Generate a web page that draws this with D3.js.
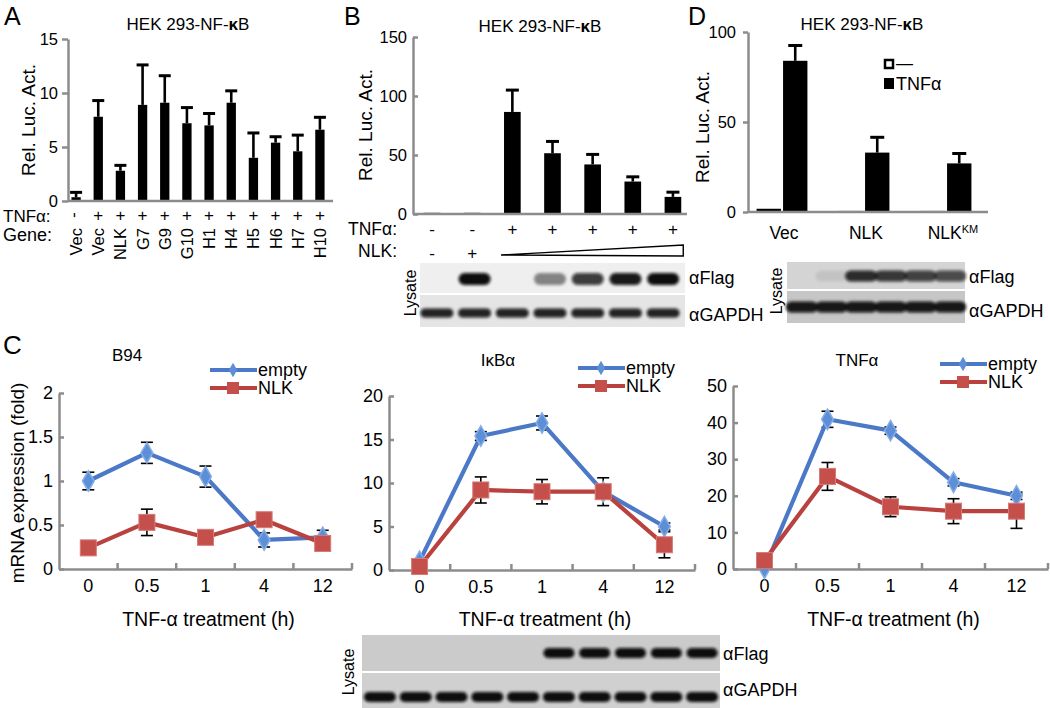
<!DOCTYPE html>
<html>
<head>
<meta charset="utf-8">
<script src="https://cdn.jsdelivr.net/npm/d3@7"></script>
<style>
  body { margin: 0; background: #fff; }
  svg { display: block; font-family: "Liberation Sans", Arial, Helvetica, sans-serif; }
</style>
</head>
<body>
<svg id="fig" width="1050" height="708"></svg>
<script>
// ---- data: panel A (reporter screen) ----
const geneLabels = ["Vec", "Vec", "NLK", "G7", "G9", "G10", "H1", "H4", "H5", "H6", "H7", "H10"];
const geneTnf = ["-", "+", "+", "+", "+", "+", "+", "+", "+", "+", "+", "+"];
const geneAct = [0.35, 7.8, 2.8, 8.9, 9.1, 7.2, 7.0, 9.1, 4.0, 5.4, 4.6, 6.6];
const geneErr = [0.45, 1.5, 0.5, 3.7, 2.5, 1.45, 1.1, 1.1, 2.3, 0.55, 1.5, 1.15];

// ---- data: panel B (NLK dose) ----
const doseTnf = ["-", "-", "+", "+", "+", "+", "+"];
const doseNlk = ["-", "+"];          // remaining lanes shown as a wedge
const doseAct = [1, 1, 86.5, 51.5, 42, 27.5, 14.5];
const doseErr = [0, 0, 18.5, 10, 8.5, 4, 4];
const doseFlag = [0, 1, 0, 0.45, 0.8, 0.95, 1];
const doseGapdh = [0.9, 0.9, 0.9, 0.9, 0.9, 0.9, 0.9];

// ---- data: panel D (kinase mutant) ----
const dGroups = ["Vec", "NLK", "NLKKM"];
const dCtrl = [1.8, 0.6, 0.6];
const dTnf = [84, 33, 27];
const dTnfErr = [8.5, 8.5, 5.5];
const dFlag = [0, 0.08, 0.85, 0.8, 0.75, 0.7];
const dGapdh = [0.95, 0.95, 0.95, 0.95, 0.95, 0.95];

// ---- data: panel C (time course, qPCR) ----
const hours = ["0", "0.5", "1", "4", "12"];
const b94Empty = [1.0, 1.32, 1.05, 0.33, 0.36];
const b94EmptyErr = [0.1, 0.12, 0.12, 0.08, 0.08];
const b94Nlk = [0.24, 0.53, 0.36, 0.56, 0.29];
const b94NlkErr = [0.02, 0.15, 0.03, 0.05, 0.03];
const ikbEmpty = [1.0, 15.4, 16.9, 9.0, 5.0];
const ikbEmptyErr = [0.2, 0.5, 0.8, 0.5, 0.4];
const ikbNlk = [0.4, 9.2, 9.0, 9.0, 2.9];
const ikbNlkErr = [0.3, 1.5, 1.4, 1.6, 1.5];
const tnfEmpty = [0.2, 40.9, 37.8, 23.7, 20.0];
const tnfEmptyErr = [0.2, 2.2, 1.0, 1.0, 1.0];
const tnfNlk = [2.3, 25.3, 17.0, 15.8, 15.8];
const tnfNlkErr = [0.5, 3.8, 2.7, 3.4, 4.7];
const cFlag = [0, 0, 0, 0, 0, 1, 1, 1, 1, 1];
const cGapdh = [1, 1, 1, 1, 1, 1, 1, 1, 1, 1];

const svg = d3.select("#fig");
const AXIS = "#8c8c8c";
const BLUE = "#4c78c8";
const RED = "#b9423f";

// blur for blot bands
svg.append("defs").append("filter").attr("id", "blur")
    .attr("x", "-30%").attr("y", "-80%").attr("width", "160%").attr("height", "260%")
  .append("feGaussianBlur").attr("stdDeviation", 1.8);

function styleAxis(g, size) {
    g.attr("font-family", null).attr("font-size", null);
    g.select(".domain").attr("stroke", AXIS).attr("stroke-width", 2.5);
    g.selectAll(".tick line").attr("stroke", AXIS).attr("stroke-width", 2.5);
    g.selectAll(".tick text").attr("fill", "#000").style("font-size", size + "px");
}

function text(x, y, s, size, anchor) {
    return svg.append("text").attr("x", x).attr("y", y)
        .attr("text-anchor", anchor || "start")
        .style("font-size", size + "px").text(s);
}

function hekTitle(x, y) {
    const t = svg.append("text").attr("x", x).attr("y", y).attr("text-anchor", "middle")
        .style("font-size", "17px");
    t.append("tspan").text("HEK 293-NF-");
    t.append("tspan").attr("font-weight", "bold").text("κ");
    t.append("tspan").text("B");
}

function vLabel(x, y, s, size) {
    svg.append("text").attr("transform", `translate(${x},${y}) rotate(-90)`)
        .attr("text-anchor", "middle").attr("dy", "0.35em")
        .style("font-size", size + "px").text(s);
}

// bar + upper error bar
function bars(g, x, y, vals, errs, capW) {
    g.selectAll(".bar").data(vals).join("rect")
        .attr("x", (d, i) => x(i)).attr("width", x.bandwidth())
        .attr("y", d => y(d)).attr("height", d => y(0) - y(d))
        .attr("fill", "#000");
    const eb = vals.map((v, i) => ({ i: i, v: v, e: errs[i] })).filter(d => d.e > 0);
    g.selectAll(".err").data(eb).join("line")
        .attr("x1", d => x(d.i) + x.bandwidth() / 2).attr("x2", d => x(d.i) + x.bandwidth() / 2)
        .attr("y1", d => y(d.v)).attr("y2", d => y(d.v + d.e))
        .attr("stroke", "#000").attr("stroke-width", 2.6);
    g.selectAll(".cap").data(eb).join("line")
        .attr("x1", d => x(d.i) + x.bandwidth() / 2 - capW / 2)
        .attr("x2", d => x(d.i) + x.bandwidth() / 2 + capW / 2)
        .attr("y1", d => y(d.v + d.e)).attr("y2", d => y(d.v + d.e))
        .attr("stroke", "#000").attr("stroke-width", 3);
}

// western blot strip
function blot(x0, x1, y0, h, bg, lanes, bandY, bandW, bandH) {
    svg.append("rect").attr("x", x0).attr("y", y0).attr("width", x1 - x0).attr("height", h).attr("fill", bg);
    const lx = d3.scaleBand().domain(d3.range(lanes.length)).range([x0 + (lanes.length === 7 ? -2 : 0), x1 - (lanes.length === 7 ? 3 : 0)]);
    svg.append("g").attr("filter", "url(#blur)")
        .selectAll("rect").data(lanes).join("rect")
        .attr("x", (d, i) => lx(i) + lx.bandwidth() / 2 - bandW / 2)
        .attr("width", bandW)
        .attr("y", bandY - bandH / 2).attr("height", bandH)
        .attr("rx", bandH / 2)
        .attr("fill", "#0a0a0a").attr("opacity", d => d);
}

// ================= panel A =================
text(4, 25, "A", 25);
hekTitle(188, 30);
const gA = svg.append("g");
const xA = d3.scaleBand().domain(d3.range(geneAct.length)).range([65, 331])
    .paddingInner(0.58).paddingOuter(0.29);
const yA = d3.scaleLinear().domain([0, 15]).range([201, 39]);
bars(gA, xA, yA, geneAct, geneErr, 12);
const axA = gA.append("g").attr("transform", "translate(68,0)")
    .call(d3.axisLeft(yA).tickValues([0, 5, 10, 15]).tickSize(6).tickSizeOuter(0).tickPadding(4));
styleAxis(axA, 16.5);
gA.append("line").attr("x1", 68).attr("x2", 333).attr("y1", yA(0)).attr("y2", yA(0))
    .attr("stroke", AXIS).attr("stroke-width", 2.5);
vLabel(28, 120, "Rel. Luc. Act.", 19);
text(3, 222, "TNFα:", 17);
text(3, 241, "Gene:", 18);
gA.selectAll(".tnf").data(geneTnf).join("text")
    .attr("transform", (d, i) => `translate(${xA(i) + xA.bandwidth() / 2},215)` + (d === "-" ? " rotate(90)" : ""))
    .attr("text-anchor", "middle").attr("dy", "0.35em")
    .style("font-size", "17px").text(d => d);
gA.selectAll(".gene").data(geneLabels).join("text")
    .attr("transform", (d, i) => `translate(${xA(i) + xA.bandwidth() / 2},228) rotate(-90)`)
    .attr("text-anchor", "end").attr("dy", "0.36em")
    .style("font-size", "16.5px").text(d => d);

// ================= panel B =================
text(344, 25, "B", 25);
hekTitle(540, 32);
const gB = svg.append("g");
const xB = d3.scaleBand().domain(d3.range(doseAct.length)).range([412, 693])
    .paddingInner(0.585).paddingOuter(0.2925);
const yB = d3.scaleLinear().domain([0, 150]).range([214, 37]);
bars(gB, xB, yB, doseAct, doseErr, 13);
const axB = gB.append("g").attr("transform", "translate(413,0)")
    .call(d3.axisLeft(yB).tickValues([0, 50, 100, 150]).tickSize(-5).tickSizeOuter(0).tickPadding(6));
styleAxis(axB, 16.5);
gB.append("line").attr("x1", 413).attr("x2", 687).attr("y1", yB(0)).attr("y2", yB(0))
    .attr("stroke", AXIS).attr("stroke-width", 2.5);
vLabel(365, 125, "Rel. Luc. Act.", 19);
text(397, 235, "TNFα:", 17.5, "end");
text(397, 257, "NLK:", 17.5, "end");
gB.selectAll(".tnf").data(doseTnf).join("text")
    .attr("x", (d, i) => xB(i) + xB.bandwidth() / 2).attr("y", 235)
    .attr("text-anchor", "middle").style("font-size", "17px").text(d => d);
gB.selectAll(".nlk").data(doseNlk).join("text")
    .attr("x", (d, i) => xB(i) + xB.bandwidth() / 2).attr("y", 259)
    .attr("text-anchor", "middle").style("font-size", "17px").text(d => d);
const wx0 = xB(2) - 3, wx1 = xB(doseAct.length - 1) + xB.bandwidth() + 2;
gB.append("path").attr("d", `M${wx0},255 L${wx1},245 L${wx1},256 Z`)
    .attr("fill", "#fff").attr("stroke", "#000").attr("stroke-width", 1.4).attr("stroke-linejoin", "miter");
blot(420, 685, 263, 30, "#efefef", doseFlag, 279, 32, 12);
blot(420, 685, 295, 32, "#e5e5e5", doseGapdh, 313, 33, 9);
vLabel(410, 293, "Lysate", 16);
text(689, 284, "αFlag", 18);
text(689, 321, "αGAPDH", 18);

// ================= panel D =================
text(688, 25, "D", 25);
hekTitle(862, 30);
const gD = svg.append("g");
const xD = d3.scaleBand().domain(dGroups).range([741, 987]).paddingInner(0.38).paddingOuter(0.19);
const xDs = d3.scaleBand().domain(["ctrl", "tnf"]).range([0, xD.bandwidth()]).paddingInner(0.08);
const yD = d3.scaleLinear().domain([0, 100]).range([212, 32]);
const dRows = [];
dGroups.forEach((g, i) => {
    dRows.push({ g: g, k: "ctrl", v: dCtrl[i], e: 0 });
    dRows.push({ g: g, k: "tnf", v: dTnf[i], e: dTnfErr[i] });
});
gD.selectAll(".bar").data(dRows).join("rect")
    .attr("x", d => xD(d.g) + xDs(d.k)).attr("width", xDs.bandwidth())
    .attr("y", d => yD(d.v)).attr("height", d => yD(0) - yD(d.v))
    .attr("fill", "#000");
const dErr = dRows.filter(d => d.e > 0);
gD.selectAll(".err").data(dErr).join("line")
    .attr("x1", d => xD(d.g) + xDs(d.k) + xDs.bandwidth() / 2)
    .attr("x2", d => xD(d.g) + xDs(d.k) + xDs.bandwidth() / 2)
    .attr("y1", d => yD(d.v)).attr("y2", d => yD(d.v + d.e))
    .attr("stroke", "#000").attr("stroke-width", 2.6);
gD.selectAll(".cap").data(dErr).join("line")
    .attr("x1", d => xD(d.g) + xDs(d.k) + xDs.bandwidth() / 2 - 7)
    .attr("x2", d => xD(d.g) + xDs(d.k) + xDs.bandwidth() / 2 + 7)
    .attr("y1", d => yD(d.v + d.e)).attr("y2", d => yD(d.v + d.e))
    .attr("stroke", "#000").attr("stroke-width", 3);
const axD = gD.append("g").attr("transform", "translate(748,0)")
    .call(d3.axisLeft(yD).tickValues([0, 50, 100]).tickSize(5).tickSizeOuter(0).tickPadding(7));
styleAxis(axD, 16.5);
gD.append("line").attr("x1", 748).attr("x2", 988).attr("y1", yD(0)).attr("y2", yD(0))
    .attr("stroke", AXIS).attr("stroke-width", 2.5);
vLabel(702, 127, "Rel. Luc. Act.", 19);
gD.selectAll(".grp").data(dGroups).join("text")
    .attr("x", d => xD(d) + xD.bandwidth() / 2 + (d === "NLKKM" ? 7 : 2)).attr("y", 239)
    .attr("text-anchor", "middle").style("font-size", "17.5px")
    .each(function (d) {
        const t = d3.select(this);
        if (d === "NLKKM") {
            t.append("tspan").text("NLK");
            t.append("tspan").attr("baseline-shift", "super").style("font-size", "11px").text("KM");
        } else {
            t.text(d);
        }
    });
// legend
gD.append("rect").attr("x", 885).attr("y", 60).attr("width", 8).attr("height", 8)
    .attr("fill", "#fff").attr("stroke", "#000").attr("stroke-width", 2.5);
text(896, 69, "—", 17);
gD.append("rect").attr("x", 884).attr("y", 78).attr("width", 10).attr("height", 11).attr("fill", "#000");
text(896, 90, "TNFα", 18);
blot(787, 965, 262, 27, "#d4d4d4", dFlag, 276, 32, 11);
blot(787, 965, 291, 32, "#c6c6c6", dGapdh, 307, 32, 11);
vLabel(776, 291, "Lysate", 16);
text(969, 283, "αFlag", 18);
text(969, 317, "αGAPDH", 18);

// ================= panel C =================
text(3, 354, "C", 26);

function linePanel(c) {
    const g = svg.append("g");
    const x = d3.scaleBand().domain(hours).range([c.x0, c.x1]);
    const y = d3.scaleLinear().domain([0, c.max]).range([c.yBase, c.yTop]);
    const cx = i => x(hours[i]) + x.bandwidth() / 2;

    const ya = g.append("g").attr("transform", `translate(${c.x0},0)`)
        .call(d3.axisLeft(y).tickValues(c.ticks).tickFormat(d => String(d))
            .tickSize(-5).tickSizeOuter(0).tickPadding(6));
    styleAxis(ya, 18);
    const xa = g.append("g").attr("transform", `translate(0,${c.yBase})`)
        .call(d3.axisBottom(x).tickSize(0).tickSizeOuter(0).tickPadding(10));
    styleAxis(xa, 18);
    g.selectAll(".bt").data(d3.range(1, hours.length + 1)).join("line")
        .attr("x1", i => c.x0 + x.step() * i).attr("x2", i => c.x0 + x.step() * i)
        .attr("y1", c.yBase).attr("y2", c.yBase - 6)
        .attr("stroke", AXIS).attr("stroke-width", 2.5);

    const series = [
        { vals: c.empty, errs: c.emptyErr },
        { vals: c.nlk, errs: c.nlkErr }
    ];
    // error bars sit under the markers
    series.forEach(s => {
        const eb = g.append("g").attr("stroke", "#000").attr("stroke-width", 1.6);
        s.vals.forEach((v, i) => {
            const lo = y(Math.max(0, v - s.errs[i])), hi = y(v + s.errs[i]);
            eb.append("line").attr("x1", cx(i)).attr("x2", cx(i)).attr("y1", lo).attr("y2", hi);
            eb.append("line").attr("x1", cx(i) - 6).attr("x2", cx(i) + 6).attr("y1", lo).attr("y2", lo);
            eb.append("line").attr("x1", cx(i) - 6).attr("x2", cx(i) + 6).attr("y1", hi).attr("y2", hi);
        });
    });
    const line = d3.line().x((d, i) => cx(i)).y(d => y(d));
    // empty vector
    g.append("path").datum(c.empty).attr("d", line)
        .attr("fill", "none").attr("stroke", BLUE).attr("stroke-width", 4.2).attr("stroke-linejoin", "round");
    g.selectAll(".dm").data(c.empty).join("path")
        .attr("transform", (d, i) => `translate(${cx(i)},${y(d)})`)
        .attr("d", d3.symbol(d3.symbolDiamond, 120))
        .attr("fill", "#5d8fd8").attr("stroke", "#86aee6").attr("stroke-width", 1.5);
    // NLK
    g.append("path").datum(c.nlk).attr("d", line)
        .attr("fill", "none").attr("stroke", RED).attr("stroke-width", 4.2).attr("stroke-linejoin", "round");
    g.selectAll(".sq").data(c.nlk).join("rect")
        .attr("x", (d, i) => cx(i) - 8).attr("y", d => y(d) - 8)
        .attr("width", 16).attr("height", 16)
        .attr("fill", "#c44f4b").attr("stroke", "#d67a77").attr("stroke-width", 1);

    // title + legend
    text(c.tx, c.ty, c.title, 17, "middle");
    g.append("line").attr("x1", c.lx).attr("x2", c.lx + 47).attr("y1", c.ly).attr("y2", c.ly)
        .attr("stroke", BLUE).attr("stroke-width", 4.2);
    g.append("path").attr("transform", `translate(${c.lx + 23},${c.ly})`)
        .attr("d", d3.symbol(d3.symbolDiamond, 60)).attr("fill", "#5d8fd8");
    g.append("line").attr("x1", c.lx).attr("x2", c.lx + 47).attr("y1", c.ly + 18).attr("y2", c.ly + 18)
        .attr("stroke", RED).attr("stroke-width", 4.2);
    g.append("rect").attr("x", c.lx + 17).attr("y", c.ly + 12).attr("width", 12).attr("height", 12)
        .attr("fill", "#c44f4b");
    text(c.lx + 48, c.ly + 6, "empty", 18);
    text(c.lx + 48, c.ly + 24, "NLK", 18);

    text((c.x0 + c.x1) / 2 + 3, 626, "TNF-α treatment (h)", 19.5, "middle");
}

linePanel({ x0: 59, x1: 352, yBase: 569, yTop: 393, max: 2, ticks: [0, 0.5, 1, 1.5, 2],
    empty: b94Empty, emptyErr: b94EmptyErr, nlk: b94Nlk, nlkErr: b94NlkErr,
    title: "B94", tx: 127, ty: 361, lx: 210, ly: 370 });
linePanel({ x0: 389, x1: 695, yBase: 570, yTop: 396, max: 20, ticks: [0, 5, 10, 15, 20],
    empty: ikbEmpty, emptyErr: ikbEmptyErr, nlk: ikbNlk, nlkErr: ikbNlkErr,
    title: "IκBα", tx: 498, ty: 366, lx: 578, ly: 368 });
linePanel({ x0: 733, x1: 1048, yBase: 569, yTop: 386, max: 50, ticks: [0, 10, 20, 30, 40, 50],
    empty: tnfEmpty, emptyErr: tnfEmptyErr, nlk: tnfNlk, nlkErr: tnfNlkErr,
    title: "TNFα", tx: 857, ty: 366, lx: 940, ly: 364 });
vLabel(17, 483, "mRNA expression (fold)", 19);

blot(362, 720, 635, 36, "#cbcbcb", cFlag, 653, 31, 10);
blot(362, 720, 673, 35, "#d0d0d0", cGapdh, 697, 32, 10);
vLabel(348, 672, "Lysate", 16);
text(723, 660, "αFlag", 18);
text(723, 696, "αGAPDH", 18);
</script>
</body>
</html>
